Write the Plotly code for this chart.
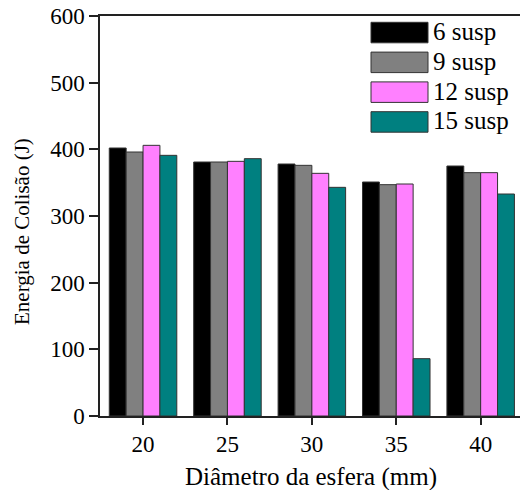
import plotly.graph_objects as go

# Collision energy (J) by sphere diameter for each number of suspensions
diameters = [20, 25, 30, 35, 40]
series_names = ["6 susp", "9 susp", "12 susp", "15 susp"]
energy_6 = [402, 381, 378, 351, 375]
energy_9 = [396, 381, 376, 347, 365]
energy_12 = [406, 382, 364, 348, 365]
energy_15 = [391, 386, 343, 86, 333]
y_ticks = [0, 100, 200, 300, 400, 500, 600]

series_values = [energy_6, energy_9, energy_12, energy_15]
colors = ["#000000", "#808080", "#FF80FF", "#008080"]

W, H = 520, 490
ML, MR, MT, MB = 100, 0, 16, 74
PW, PH = W - ML - MR, H - MT - MB


def px(x):
    return (x - ML) / PW


def py(y):
    return (H - MB - y) / PH


FONT = "Liberation Serif, Times New Roman, serif"

fig = go.Figure()
for name, vals, col in zip(series_names, series_values, colors):
    fig.add_trace(go.Bar(
        x=diameters, y=vals, name=name,
        marker=dict(color=col, line=dict(color="#333333", width=1)),
        showlegend=False,
    ))

# Legend drawn as large swatches with labels
shapes = []
annotations = []
row_top = 22.3
row_step = 29.8
sw_h = 20.5
for i, (name, col) in enumerate(zip(series_names, colors)):
    top = row_top + i * row_step
    shapes.append(dict(
        type="rect", xref="paper", yref="paper",
        x0=px(371), x1=px(428), y0=py(top + sw_h), y1=py(top),
        fillcolor=col, line=dict(color="#333333", width=1),
    ))
    annotations.append(dict(
        text=name, xref="paper", yref="paper",
        x=px(431), y=py(top + sw_h / 2 - 1), xanchor="left", yanchor="middle",
        showarrow=False, font=dict(family=FONT, size=25, color="#000000"),
    ))

annotations.append(dict(
    text="Diâmetro da esfera (mm)", xref="paper", yref="paper",
    x=px(311), y=py(477), xanchor="center", yanchor="middle",
    showarrow=False, font=dict(family=FONT, size=25, color="#000000"),
))
annotations.append(dict(
    text="Energia de Colisão (J)", xref="paper", yref="paper",
    x=px(22), y=py(232), xanchor="center", yanchor="middle", textangle=-90,
    showarrow=False, font=dict(family=FONT, size=21, color="#000000"),
))

fig.update_layout(
    width=W, height=H,
    margin=dict(l=ML, r=MR, t=MT, b=MB, pad=0),
    plot_bgcolor="white", paper_bgcolor="white",
    barmode="group", bargap=0.2, bargroupgap=0,
    font=dict(family=FONT, size=23, color="#000000"),
    shapes=shapes, annotations=annotations,
)
fig.update_xaxes(
    range=[17.45, 42.33], tickvals=diameters, ticktext=[str(d) for d in diameters],
    showline=True, linecolor="#222222", linewidth=1.5, mirror=True,
    ticks="outside", ticklen=7, tickwidth=1.5, tickcolor="#222222",
    showgrid=False, zeroline=False,
)
fig.update_yaxes(
    range=[0, 600], tickvals=y_ticks,
    showline=True, linecolor="#222222", linewidth=1.5, mirror=False,
    ticks="outside", ticklen=9, tickwidth=1.5, tickcolor="#222222",
    showgrid=False, zeroline=False,
)

fig.write_html("out.html")
